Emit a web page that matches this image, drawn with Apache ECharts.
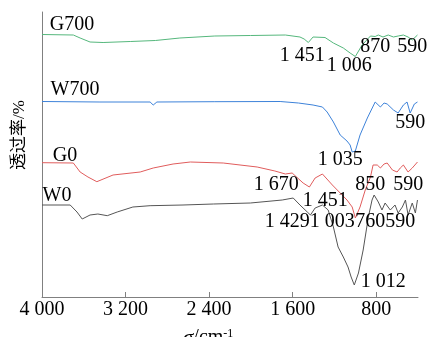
<!DOCTYPE html>
<html lang="zh">
  <head>
    <meta charset="UTF-8" />
    <title>FTIR spectra</title>
    <script src="https://cdn.jsdelivr.net/npm/echarts@6/dist/echarts.min.js"></script>
    <style>
      html, body { margin: 0; padding: 0; background: #fff; }
      #main { width: 430px; height: 337px; }
    </style>
  </head>
  <body>
    <div id="main"></div>
    <script>
      // 波数 [cm-1, 透过率(偏移后)]
      var g700Data = [
        [4000, 262.5], [3700, 262], [3635, 259], [3540, 255], [3415, 254.5], [3155, 255.5],
        [2915, 256.5], [2680, 259], [2345, 261], [2005, 261.5], [1670, 262], [1530, 260],
        [1490, 258], [1450, 254.5], [1405, 260], [1290, 259.5], [1210, 254], [1115, 249],
        [1050, 244], [1000, 240.5], [935, 252], [855, 261], [810, 260.5], [780, 262],
        [735, 260], [685, 262], [635, 260], [590, 261], [540, 262], [495, 260], [455, 257], [405, 262]
      ];
      var w700Data = [
        [4000, 195.5], [3445, 195], [2965, 195], [2935, 192], [2900, 195], [2345, 195.3],
        [1720, 195.5], [1545, 194], [1405, 192], [1315, 190], [1270, 185], [1210, 175],
        [1145, 162], [1080, 156], [1050, 152], [1030, 145], [1000, 146], [955, 162],
        [885, 179], [810, 195], [760, 190], [725, 194], [695, 193], [635, 187], [590, 184],
        [540, 192], [505, 195], [475, 184], [435, 193], [405, 195]
      ];
      var g0Data = [
        [4000, 134.3], [3700, 134], [3635, 125], [3560, 120], [3475, 115.3], [3320, 122],
        [3060, 125], [2935, 129], [2745, 133], [2580, 135], [2265, 134], [1940, 130],
        [1770, 126], [1670, 123], [1605, 124], [1500, 114], [1440, 110], [1385, 119],
        [1315, 123], [1220, 112], [1145, 104], [1080, 97], [1030, 90], [1000, 79],
        [955, 90], [905, 107], [855, 120], [830, 132], [790, 132], [760, 129], [725, 133],
        [695, 134], [645, 127], [600, 125], [570, 129], [540, 132], [495, 125], [455, 129], [405, 135]
      ];
      var w0Data = [
        [4000, 92], [3730, 92], [3665, 85], [3615, 78], [3540, 82], [3465, 83], [3375, 81.3],
        [3280, 85], [3130, 90], [2965, 91.3], [2650, 92], [2360, 93], [2005, 94], [1700, 97],
        [1595, 99], [1530, 92], [1460, 85], [1430, 82], [1385, 89], [1315, 92], [1260, 87],
        [1210, 70], [1165, 50], [1115, 40], [1070, 30], [1040, 20], [1010, 12], [970, 24],
        [925, 47], [875, 80], [840, 97], [820, 102], [780, 95], [745, 87], [715, 94],
        [665, 87], [620, 92], [590, 84], [550, 90], [520, 97], [495, 82], [455, 94],
        [425, 84], [405, 97]
      ];
      var seriesNames = ['G700', 'W700', 'G0', 'W0'];
      var seriesColors = ['#55b77c', '#3d82d9', '#e05c5c', '#555555'];
      var xTicks = [4000, 3200, 2400, 1600, 800];

      // 峰位标注 [波数, 纵坐标, 文本]
      var peakLabels = [
        [3713, 272, 'G700'], [3684, 207, 'W700'], [3780, 141, 'G0'], [3856, 101, 'W0'],
        [1509, 241, '1 451'], [1059, 231, '1 006'], [810, 250, '870'], [455, 250, '590'],
        [474, 174, '590'], [1145, 137, '1 035'],
        [1758, 112, '1 670'], [1289, 96, '1 451'], [857, 112, '850'], [493, 112, '590'],
        [1653, 75, '1 429'], [1222, 75, '1 003'], [857, 75, '760'], [570, 75, '590'],
        [733, 15, '1 012']
      ];

      var serif = 'Liberation Serif, Times New Roman, serif';
      var chart = echarts.init(document.getElementById('main'));

      var allData = [g700Data, w700Data, g0Data, w0Data];
      var series = allData.map(function (d, i) {
        return {
          name: seriesNames[i],
          type: 'line',
          data: d,
          showSymbol: false,
          silent: true,
          lineStyle: { color: seriesColors[i], width: 1 },
          z: 2
        };
      });
      series.push({
        type: 'scatter',
        data: peakLabels.map(function (p) { return { value: [p[0], p[1]], name: p[2] }; }),
        symbolSize: 0,
        silent: true,
        itemStyle: { opacity: 1 },
        label: {
          show: true,
          position: 'inside',
          formatter: function (p) { return p.name; },
          color: '#000',
          opacity: 1,
          textBorderWidth: 0,
          fontSize: 20,
          fontFamily: serif
        },
        z: 5
      });

      chart.setOption({
        animation: false,
        grid: { left: 42, right: 12, top: 12, bottom: 40 },
        xAxis: {
          type: 'value',
          min: 400,
          max: 4000,
          inverse: true,
          axisLine: { show: true, lineStyle: { color: '#808080', width: 1 } },
          axisTick: { show: true, inside: true, length: 5, customValues: xTicks.slice(1),
            lineStyle: { color: '#808080' } },
          axisLabel: {
            customValues: xTicks,
            margin: 3,
            color: '#000',
            fontSize: 20,
            fontFamily: serif,
            formatter: function (v) { return String(v).replace(/(\d)(?=(\d{3})$)/, '$1 '); }
          },
          splitLine: { show: false }
        },
        yAxis: {
          type: 'value',
          min: 0,
          max: 285,
          axisLine: { show: true, lineStyle: { color: '#808080', width: 1 } },
          axisTick: { show: false },
          axisLabel: { show: false },
          splitLine: { show: false }
        },
        graphic: [
          {
            type: 'text',
            x: 20,
            y: 135,
            rotation: Math.PI / 2,
            style: {
              text: '透过率/%',
              align: 'center',
              verticalAlign: 'middle',
              fill: '#000',
              font: '17px Liberation Serif, Noto Sans CJK SC'
            }
          },
          {
            type: 'text',
            x: 183,
            y: 328,
            style: {
              text: '{i|σ}{n|/cm}{s|-1}',
              rich: {
                i: { fontStyle: 'italic', fontSize: 21, fontFamily: serif, fill: '#000', lineHeight: 20 },
                n: { fontSize: 20, fontFamily: serif, fill: '#000', lineHeight: 20 },
                s: { fontSize: 12, fontFamily: serif, fill: '#000', verticalAlign: 'top', lineHeight: 20 }
              }
            }
          }
        ],
        series: series
      });
    </script>
  </body>
</html>
